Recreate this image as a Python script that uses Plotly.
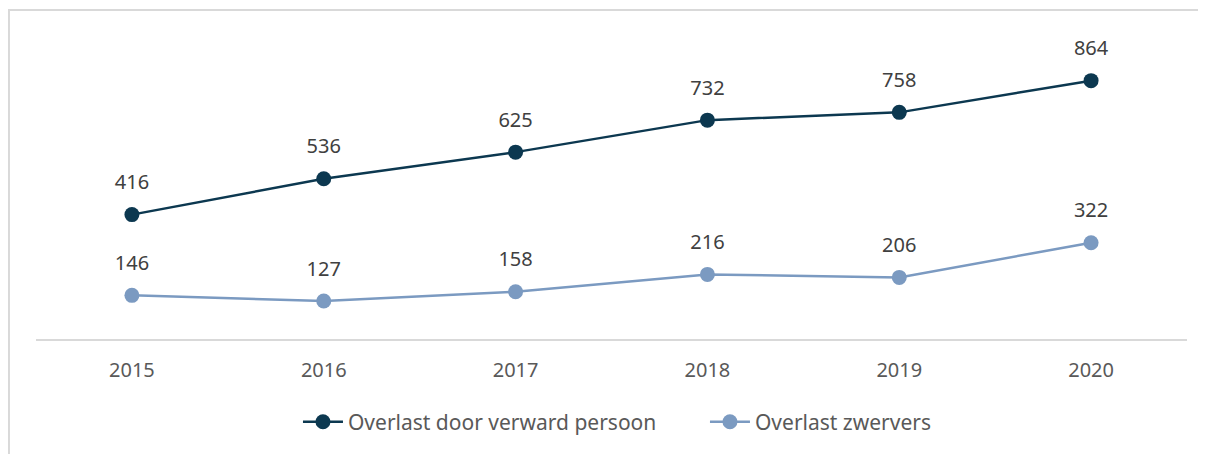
import plotly.graph_objects as go

years = ["2015", "2016", "2017", "2018", "2019", "2020"]
verward = [416, 536, 625, 732, 758, 864]
zwervers = [146, 127, 158, 216, 206, 322]
names = ["Overlast door verward persoon", "Overlast zwervers"]
colors = ["#0c3850", "#7b9ac1"]

fig = go.Figure()
for vals, name, col in [(verward, names[0], colors[0]), (zwervers, names[1], colors[1])]:
    fig.add_trace(go.Scatter(x=years, y=vals, name=name, mode="lines+markers",
                             line=dict(color=col, width=2.5),
                             marker=dict(color=col, size=15)))
for vals in (verward, zwervers):
    fig.add_trace(go.Scatter(x=years, y=vals, mode="markers+text", text=[str(v) for v in vals],
                             textposition="top center", showlegend=False, hoverinfo="skip",
                             cliponaxis=False,
                             marker=dict(size=31, color="rgba(0,0,0,0)"),
                             textfont=dict(size=20, color="#404040", family="Noto Sans")))

fig.update_layout(
    width=1206, height=454,
    margin=dict(l=28, r=27, t=32, b=123),
    plot_bgcolor="white", paper_bgcolor="white",
    font=dict(family="Noto Sans", size=20, color="#595959"),
    showlegend=True,
    legend=dict(orientation="h", x=0.2276, xanchor="left", y=-0.278, yanchor="middle",
                font=dict(size=21, color="#595959"), itemwidth=40, tracegroupgap=0,
                entrywidth=352, entrywidthmode="pixels"),
    shapes=[dict(type="rect", xref="paper", yref="paper", x0=-0.0235, x1=1.2,
                 y0=-0.6, y1=1.1003, line=dict(color="#d9d9d9", width=2), layer="below")],
)
fig.update_xaxes(type="category", range=[-0.5, 5.5], showline=True, linecolor="#d9d9d9",
                 linewidth=2, showgrid=False, ticks="", ticklabelstandoff=12,
                 tickfont=dict(size=20, color="#595959"))
fig.update_yaxes(range=[0, 1000], showgrid=False, showticklabels=False, zeroline=False,
                 showline=False)

fig.write_html("out.html")
